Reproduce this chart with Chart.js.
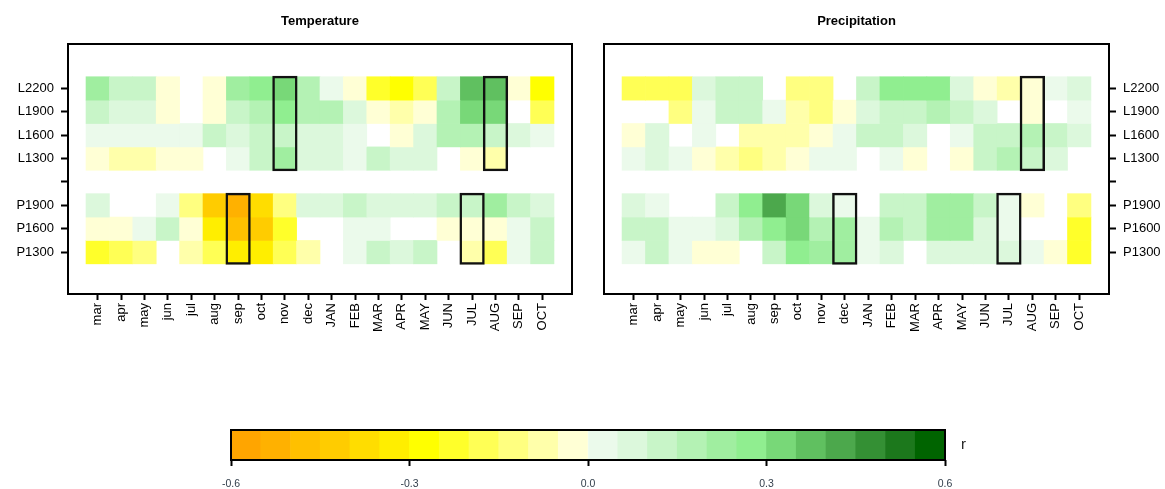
<!DOCTYPE html>
<html><head><meta charset="utf-8">
<script src="https://cdn.jsdelivr.net/npm/chart.js@4.4.0/dist/chart.umd.min.js"></script>
<style>
html,body{margin:0;padding:0;background:#fff;width:1165px;height:489px;overflow:hidden;}
.box{position:absolute;}
</style></head><body>
<div class="box" style="left:0;top:0;width:590px;height:345px"><canvas id="cT"></canvas></div>
<div class="box" style="left:590px;top:0;width:575px;height:345px"><canvas id="cP"></canvas></div>
<div class="box" style="left:200px;top:405px;width:800px;height:84px"><canvas id="cL"></canvas></div>
<script>
// ---- categories / labels ----
const months = ['mar','apr','may','jun','jul','aug','sep','oct','nov','dec','JAN','FEB','MAR','APR','MAY','JUN','JUL','AUG','SEP','OCT'];
const rowLabels = ['L2200','L1900','L1600','L1300','P1900','P1600','P1300'];
const rowPositions = [8,7,6,5,3,2,1];
const yTickValues = [1,2,3,4,5,6,7,8];
const yTickLabels = ['P1300','P1600','P1900','','L1300','L1600','L1900','L2200'];

// ---- Temperature correlations (null = blank cell) ----
const T_L2200 = [0.23,0.13,0.13,-0.03,null,-0.03,0.23,0.28,0.33,0.18,0.03,-0.03,-0.23,-0.28,-0.18,0.13,0.38,0.38,-0.03,-0.28];
const T_L1900 = [0.13,0.08,0.08,-0.03,null,-0.03,0.13,0.18,0.28,0.18,0.18,0.08,-0.03,-0.08,-0.03,0.18,0.33,0.33,null,-0.18];
const T_L1600 = [0.03,0.03,0.03,0.03,0.03,0.13,0.08,0.13,0.13,0.08,0.08,0.03,null,-0.03,0.08,0.18,0.18,0.13,0.08,0.03];
const T_L1300 = [-0.03,-0.08,-0.08,-0.03,-0.03,null,0.03,0.13,0.23,0.08,0.08,0.03,0.13,0.08,0.08,null,-0.03,-0.08,null,null];
const T_P1900 = [0.08,null,null,0.03,-0.13,-0.43,-0.53,-0.38,-0.13,0.08,0.08,0.13,0.08,0.08,0.08,0.13,0.13,0.23,0.13,0.08];
const T_P1600 = [-0.03,-0.03,0.03,0.13,-0.03,-0.33,-0.48,-0.43,-0.23,null,null,0.03,0.03,null,null,-0.03,-0.03,-0.03,0.03,0.13];
const T_P1300 = [-0.23,-0.18,-0.13,null,-0.08,-0.18,-0.33,-0.33,-0.18,-0.08,null,0.03,0.13,0.08,0.13,null,-0.08,-0.18,0.03,0.13];

// ---- Precipitation correlations ----
const P_L2200 = [-0.18,-0.18,-0.18,0.08,0.13,0.13,null,-0.13,-0.13,null,0.13,0.28,0.28,0.28,0.08,-0.03,-0.08,-0.03,0.03,0.08];
const P_L1900 = [null,null,-0.13,0.03,0.13,0.13,0.03,-0.08,-0.13,-0.03,0.08,0.13,0.13,0.18,0.13,0.08,null,-0.03,null,0.03];
const P_L1600 = [-0.03,0.08,null,0.03,null,-0.08,-0.08,-0.08,-0.03,0.03,0.13,0.13,0.08,null,0.03,0.13,0.13,0.18,0.13,0.08];
const P_L1300 = [0.03,0.08,0.03,-0.03,-0.08,-0.13,-0.08,-0.03,0.03,0.03,null,0.03,-0.03,null,-0.03,0.13,0.18,0.13,0.08,null];
const P_P1900 = [0.08,0.03,null,null,0.13,0.28,0.43,0.33,0.08,0.03,null,0.13,0.13,0.23,0.23,0.13,0.03,-0.03,null,-0.13];
const P_P1600 = [0.13,0.13,0.03,0.03,0.08,0.18,0.28,0.33,0.18,0.23,0.03,0.18,0.13,0.23,0.23,0.08,0.03,null,null,-0.23];
const P_P1300 = [0.03,0.13,0.03,-0.03,-0.03,null,0.13,0.28,0.23,0.23,0.03,0.08,null,0.08,0.08,0.08,0.08,0.03,-0.03,-0.23];

// ---- highlighted (framed) month blocks ----
const tempHighlights = [['nov','L'],['AUG','L'],['sep','P'],['JUL','P']];
const precHighlights = [['AUG','L'],['dec','P'],['JUL','P']];
const groupRows = {L:['L2200','L1300'], P:['P1900','P1300']};

// ---- colour scale ----
const breaks = [-0.6,-0.55,-0.5,-0.45,-0.4,-0.35,-0.3,-0.25,-0.2,-0.15,-0.1,-0.05,0,0.05,0.1,0.15,0.2,0.25,0.3,0.35,0.4,0.45,0.5,0.55,0.6];
const palette = ['#FFA500','#FFB100','#FFC000','#FFCC00','#FFDD00','#FFEE00','#FFFF00','#FFFF2A','#FFFF55','#FFFF80','#FFFFAA','#FFFFD5',
                 '#EBFAEB','#DCF8DC','#C8F5C8','#B4F2B4','#A0EEA0','#90EE90','#78D878','#60C060','#4CA84C','#349034','#1C781C','#006400'];
const legendTicks = [-0.6,-0.3,0,0.3,0.6];

function colorOf(v){
  for (let i = 0; i < palette.length; i++) if (v >= breaks[i] && v < breaks[i+1]) return palette[i];
  return v < breaks[0] ? palette[0] : palette[palette.length-1];
}

Chart.defaults.font.family = "'Liberation Sans', Arial, sans-serif";
Chart.defaults.color = '#000';

const framePlugin = {id:'frame', afterDraw(chart){
  const {ctx, chartArea:a} = chart;
  ctx.save(); ctx.strokeStyle = '#000'; ctx.lineWidth = 2;
  ctx.strokeRect(a.left, a.top, a.right - a.left, a.bottom - a.top);
  ctx.restore();
}};

function panel(canvasId, title, rows, highlights, yPos, pad, yWidth){
  const datasets = [];
  highlights.forEach(([m, g]) => {
    const col = months.indexOf(m) + 1;
    const top = rowPositions[rowLabels.indexOf(groupRows[g][0])];
    const bot = rowPositions[rowLabels.indexOf(groupRows[g][1])];
    datasets.push({data:[{x:col, y:[bot - 0.54, top + 0.54]}], backgroundColor:'rgba(0,0,0,0)',
      borderColor:'#111', borderWidth:2.5, borderSkipped:false, barPercentage:1.08, categoryPercentage:1,
      grouped:false, order:0});
  });
  rows.forEach((vals, r) => {
    const pts = [], cols = [];
    vals.forEach((v, i) => {
      if (v === null) return;
      pts.push({x:i + 1, y:[rowPositions[r] - 0.5, rowPositions[r] + 0.5]});
      cols.push(colorOf(v));
    });
    datasets.push({label:rowLabels[r], data:pts, backgroundColor:cols, borderWidth:0,
      barPercentage:1, categoryPercentage:1, grouped:false, order:1});
  });
  return new Chart(document.getElementById(canvasId), {
    type:'bar',
    data:{datasets},
    plugins:[framePlugin],
    options:{
      responsive:true, maintainAspectRatio:false, animation:false,
      layout:{padding:pad},
      plugins:{
        legend:{display:false}, tooltip:{enabled:false},
        title:{display:true, text:title, fullSize:false, color:'#000',
          font:{size:13, weight:'bold'}, padding:{top:14, bottom:14.4}}
      },
      scales:{
        x:{type:'linear', min:-0.27, max:21.27, offset:false,
          afterBuildTicks:s => { s.ticks = months.map((m, i) => ({value:i + 1})); },
          afterFit:s => { s.height = 51; },
          grid:{display:true, offset:false, drawOnChartArea:false, drawTicks:true, tickLength:6, tickWidth:2, tickColor:'#000'},
          border:{display:false},
          ticks:{autoSkip:false, minRotation:90, maxRotation:90, padding:3, color:'#000', font:{size:13},
            callback:(v) => months[Math.round(v) - 1]}
        },
        y:{type:'linear', position:yPos, min:-0.79, max:9.9,
          afterBuildTicks:s => { s.ticks = yTickValues.map(v => ({value:v})); },
          afterFit:s => { s.width = yWidth; },
          grid:{display:true, drawOnChartArea:false, drawTicks:true, tickLength:7, tickWidth:2, tickColor:'#000'},
          border:{display:false},
          ticks:{padding:7, color:'#000', font:{size:13},
            callback:(v) => yTickLabels[yTickValues.indexOf(Math.round(v))]}
        }
      }
    }
  });
}

panel('cT', 'Temperature', [T_L2200,T_L1900,T_L1600,T_L1300,T_P1900,T_P1600,T_P1300], tempHighlights, 'left', {left:0,right:18,top:0,bottom:0}, 68);
panel('cP', 'Precipitation', [P_L2200,P_L1900,P_L1600,P_L1300,P_P1900,P_P1600,P_P1300], precHighlights, 'right', {left:14,right:0,top:0,bottom:0}, 56);

// ---- colour bar legend ----
new Chart(document.getElementById('cL'), {
  type:'bar',
  data:{labels:['r'], datasets:[{
    data: palette.map((c, i) => ({x:[breaks[i], breaks[i+1]], y:'r'})),
    backgroundColor: palette, borderWidth:0, barPercentage:1, categoryPercentage:1, grouped:false
  }]},
  plugins:[framePlugin],
  options:{
    indexAxis:'y', responsive:true, maintainAspectRatio:false, animation:false,
    layout:{padding:{left:31, right:0, top:22, bottom:0}},
    plugins:{legend:{display:false}, tooltip:{enabled:false}},
    scales:{
      x:{type:'linear', min:-0.6, max:0.6,
        afterBuildTicks:s => { s.ticks = legendTicks.map(v => ({value:v})); },
        afterFit:s => { s.height = 29; },
        grid:{display:true, drawOnChartArea:false, drawTicks:true, tickLength:6, tickWidth:2, tickColor:'#000'},
        border:{display:false},
        ticks:{padding:12, color:'#34404d', font:{size:10.5}, callback:v => Number(v).toFixed(1)}
      },
      y:{position:'right',
        afterFit:s => { s.width = 55; },
        grid:{display:false, drawTicks:false}, border:{display:false},
        ticks:{padding:16, color:'#222', font:{size:15}}
      }
    }
  }
});
</script>
</body></html>
